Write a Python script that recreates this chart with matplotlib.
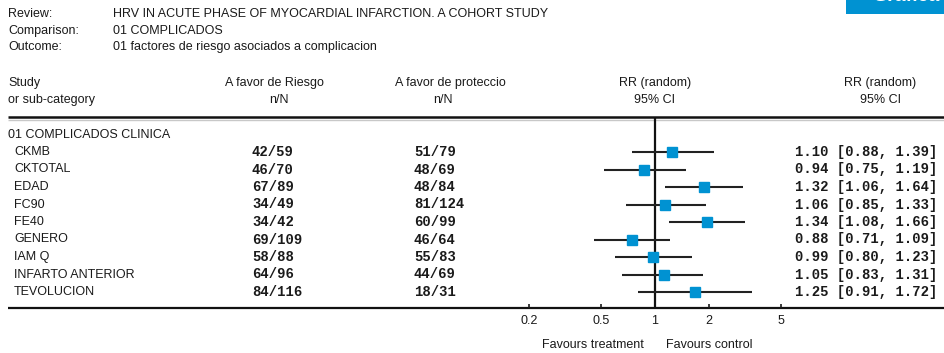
import matplotlib
matplotlib.use("Agg")
import numpy as np
import matplotlib.pyplot as plt
from matplotlib.transforms import blended_transform_factory
from matplotlib.patches import Rectangle

# ---------------- data ----------------
studies = ["CKMB", "CKTOTAL", "EDAD", "FC90", "FE40", "GENERO", "IAM Q",
           "INFARTO ANTERIOR", "TEVOLUCION"]
riesgo = ["42/59", "46/70", "67/89", "34/49", "34/42", "69/109", "58/88", "64/96", "84/116"]
proteccion = ["51/79", "48/69", "48/84", "81/124", "60/99", "46/64", "55/83", "44/69", "18/31"]
rr = [1.10, 0.94, 1.32, 1.06, 1.34, 0.88, 0.99, 1.05, 1.25]
rr_lo = [0.88, 0.75, 1.06, 0.85, 1.08, 0.71, 0.80, 0.83, 0.91]
rr_hi = [1.39, 1.19, 1.64, 1.33, 1.66, 1.09, 1.23, 1.31, 1.72]
axis_ticks = [0.2, 0.5, 1, 2, 5]
axis_labels = ["0.2", "0.5", "1", "2", "5"]

SANS = "Liberation Sans"
MONO = "Liberation Mono"
BLUE = "#0092d2"
INK = "#1a1a1a"

W, H = 945, 353
fig = plt.figure(figsize=(W / 100, H / 100), dpi=100)
fig.patch.set_facecolor("white")

# overlay in pixel coordinates for the table layout
ov = fig.add_axes([0, 0, 1, 1])
ov.set_xlim(0, W)
ov.set_ylim(H, 0)
ov.axis("off")

# forest panel: log scale, 1 at x=655 px, ~410 px per decade for the marks
PX_DEC = 410.0
X1 = 655.0
fx0, fx1 = 520.0, 800.0
fy0, fy1 = 118.0, 308.0          # top / bottom in pixels
row0, row_step = 152.0, 17.5
ax = fig.add_axes([fx0 / W, 1 - fy1 / H, (fx1 - fx0) / W, (fy1 - fy0) / H])
ax.set_xscale("log")
ax.set_xlim(10 ** ((fx0 - X1) / PX_DEC), 10 ** ((fx1 - X1) / PX_DEC))
ax.set_ylim((fy1 - row0) / row_step, -(row0 - fy0) / row_step)
ax.patch.set_alpha(0)
for s in ax.spines.values():
    s.set_visible(False)
ax.tick_params(which="both", left=False, labelleft=False, bottom=False, labelbottom=False)

rows = np.arange(len(studies))
ax.hlines(rows, rr_lo, rr_hi, color="#222222", lw=1.5, zorder=2)
ax.axvline(1, color="#111111", lw=1.6, zorder=1)
ax.plot(rr, rows, "s", color=BLUE, markersize=7, zorder=3, linestyle="none")

# printed axis runs at ~180 px per decade
EXP = PX_DEC / 180.0
sec = ax.secondary_xaxis("bottom", functions=(lambda x: np.power(np.maximum(x, 1e-9), EXP),
                                              lambda s: np.power(np.maximum(s, 1e-9), 1 / EXP)))
sec.spines["bottom"].set_visible(False)
sec.set_xticks(axis_ticks, labels=axis_labels)
sec.tick_params(which="minor", bottom=False, labelbottom=False, length=0)
sec.tick_params(which="major", direction="in", length=3, width=1.2, color=INK, pad=5,
                labelsize=9, labelfontfamily=SANS, labelcolor=INK)

# ---------------- header ----------------
hdr = dict(fontsize=9, family=SANS, color=INK, va="center")
for y, k, v in [(14, "Review:", "HRV IN ACUTE PHASE OF MYOCARDIAL INFARCTION. A COHORT STUDY"),
                (31, "Comparison:", "01 COMPLICADOS"),
                (47, "Outcome:", "01 factores de riesgo asociados a complicacion")]:
    ov.text(8, y, k, ha="left", **hdr)
    ov.text(113, y, v, ha="left", **hdr)

ov.text(8, 83, "Study", ha="left", **hdr)
ov.text(8, 100, "or sub-category", ha="left", **hdr)
ov.text(274, 83, "A favor de Riesgo", ha="center", **hdr)
ov.text(279, 100, "n/N", ha="center", **hdr)
ov.text(450, 83, "A favor de proteccio", ha="center", **hdr)
ov.text(443, 100, "n/N", ha="center", **hdr)
ov.text(655, 83, "RR (random)", ha="center", **hdr)
ov.text(655, 100, "95% CI", ha="center", **hdr)
ov.text(880, 83, "RR (random)", ha="center", **hdr)
ov.text(881, 100, "95% CI", ha="center", **hdr)

# rules
ov.plot([8, W], [117, 117], color="#111111", lw=1.8, solid_capstyle="butt")
ov.plot([8, W], [119.5, 119.5], color="#c8c8c8", lw=1.0, solid_capstyle="butt")
ov.plot([8, W], [308, 308], color="#111111", lw=1.6, solid_capstyle="butt")

ov.text(8, 135, "01 COMPLICADOS CLINICA", ha="left", **hdr)

# ---------------- table rows ----------------
tr = blended_transform_factory(ov.transData, ax.transData)
mono = dict(fontsize=10, family=MONO, weight="bold", color=INK, va="center", transform=tr)
for i, name in enumerate(studies):
    ov.text(14, i, name, ha="left", fontsize=9, family=SANS, color=INK, va="center", transform=tr)
    ov.text(252, i, riesgo[i], ha="left", **mono)
    ov.text(414, i, proteccion[i], ha="left", **mono)
    ov.text(795, i, f"{rr[i]:.2f} [{rr_lo[i]:.2f}, {rr_hi[i]:.2f}]", ha="left", **mono)

ov.text(644, 345, "Favours treatment", ha="right", **hdr)
ov.text(666, 345, "Favours control", ha="left", **hdr)

# blue tab cut at the top edge
ov.add_patch(Rectangle((846, 0), W - 846, 14, facecolor=BLUE, edgecolor="none"))
ov.text(872, 5, "Grafica", ha="left", va="bottom", fontsize=14, weight="bold",
        family=SANS, color="white")

fig.savefig("out.png", dpi=100, facecolor="white")
